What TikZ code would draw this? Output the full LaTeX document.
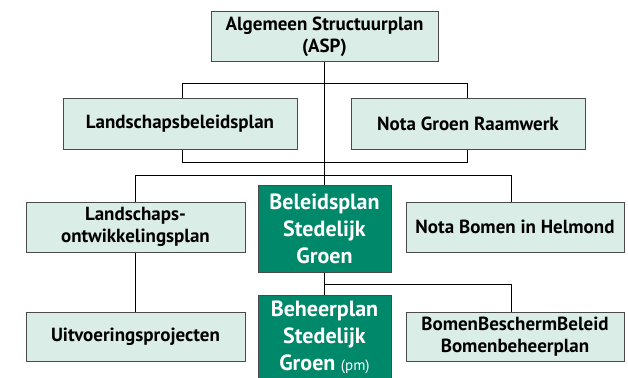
\documentclass[tikz,border=0pt]{standalone}
\usepackage{fontspec}
\setmainfont{PT Sans}
\definecolor{lightbox}{HTML}{DAEDE7}
\definecolor{darkbox}{HTML}{00886A}
\definecolor{boxline}{HTML}{4A4A4A}
\begin{document}
\begin{tikzpicture}[x=1pt,y=-1pt,
  lbox/.style={draw=boxline,line width=1pt,fill=lightbox,align=center,inner sep=0pt,
    font=\fontsize{19}{22}\selectfont\bfseries,text=black},
  dbox/.style={draw=boxline,line width=1pt,fill=darkbox,align=center,inner sep=0pt,
    font=\fontsize{22}{27}\selectfont\bfseries,text=white},
  conn/.style={draw=black,line width=1pt}]
\useasboundingbox (0,0) rectangle (628,377);
\node[lbox,minimum width=227,minimum height=50] (asp) at (324.5,37) {Algemeen Structuurplan\\(ASP)};
\node[lbox,minimum width=234,minimum height=50] (lbp) at (180,124) {Landschapsbeleidsplan};
\node[lbox,minimum width=234,minimum height=50] (ngr) at (468,124) {Nota Groen Raamwerk};
\node[lbox,minimum width=219,minimum height=50] (lop) at (135.5,227) {Landschaps-\\ontwikkelingsplan};
\node[dbox,minimum width=133,minimum height=87] (bsg) at (324.5,228.5) {Beleidsplan\\Stedelijk\\Groen};
\node[lbox,minimum width=218,minimum height=50] (nbh) at (515,227) {Nota Bomen in Helmond};
\node[lbox,minimum width=219,minimum height=49] (up) at (135.5,336.5) {Uitvoeringsprojecten};
\node[dbox,minimum width=133,minimum height=84] (bhsg) at (324.5,337) {Beheerplan\\Stedelijk\\Groen {\fontsize{15}{17}\selectfont\mdseries(pm)}};
\node[lbox,minimum width=218,minimum height=49] (bbb) at (515,336.5) {BomenBeschermBeleid\\Bomenbeheerplan};
% connectors
\draw[conn] (asp.south) -- (bsg.north);
\draw[conn] ([xshift=2pt]lbp.north) -- ++(0,-15) -| ([xshift=-1pt]ngr.north);
\draw[conn] ([xshift=2pt]lbp.south) -- ++(0,12.5) -| ([xshift=-1pt]ngr.south);
\draw[conn] (lop.north) -- ++(0,-26) -| ([xshift=-4pt]nbh.north);
\draw[conn] (lop.south) -- (up.north);
\draw[conn] (bsg.south) -- (bhsg.north);
\draw[conn] (bsg.south) ++(0,12) -| ([xshift=-4pt]bbb.north);
\end{tikzpicture}
\end{document}
